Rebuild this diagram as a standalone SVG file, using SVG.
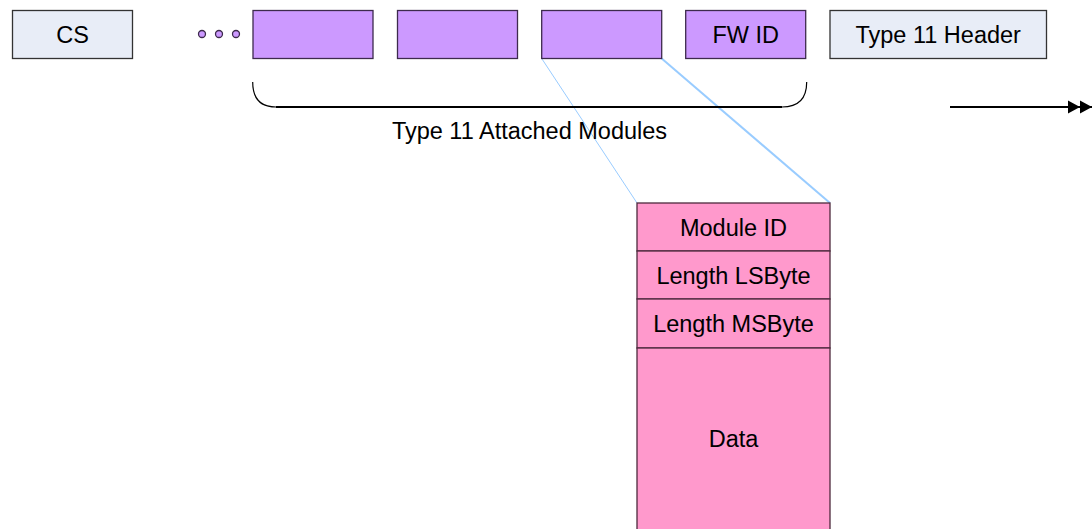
<svg xmlns="http://www.w3.org/2000/svg" width="1092" height="529" viewBox="0 0 1092 529">
<defs>
<style>
text{font-family:"Liberation Sans",Arial,Helvetica,sans-serif;font-size:23.5px;fill:#000;text-anchor:middle}
.hdr{fill:#e8edf7;stroke:#333;stroke-width:1.3}
.mod{fill:#cc99ff;stroke:#3d2a4d;stroke-width:1.3}
.pink{fill:#ff99cc;stroke:#4d2a3d;stroke-width:1.3}
.blue{stroke:#99ccff;fill:none}
</style>
<marker id="ah" markerWidth="26" markerHeight="16" refX="24" refY="8" orient="auto" markerUnits="userSpaceOnUse">
<path d="M0,1.5 L12,8 L0,14.5 Z M12,1.5 L24,8 L12,14.5 Z" fill="#000"/>
</marker>
</defs>
<rect width="1092" height="529" fill="#fff"/>
<g id="connectors">
<line class="blue" x1="541.7" y1="58.5" x2="637" y2="203" stroke-width="1"/>
<line class="blue" x1="661.7" y1="58.5" x2="830" y2="203" stroke-width="2"/>
<path d="M252.7,82 Q252.7,107 276,107" fill="none" stroke="#000" stroke-width="1.2"/>
<line x1="276" y1="107" x2="782" y2="107" stroke="#000" stroke-width="2.2"/>
<path d="M782,107 Q806.7,107 806.7,82" fill="none" stroke="#000" stroke-width="1.2"/>
<line x1="950" y1="107" x2="1092" y2="107" stroke="#000" stroke-width="2" marker-end="url(#ah)"/>
</g>
<g id="cs"><rect class="hdr" x="12.5" y="10.5" width="120" height="48"/><text x="72.5" y="42.5">CS</text></g>
<g id="dots"><circle class="mod" cx="202" cy="34" r="3.5"/><circle class="mod" cx="219" cy="34" r="3.5"/><circle class="mod" cx="236" cy="34" r="3.5"/></g>
<g id="m1"><rect class="mod" x="253" y="10.5" width="120" height="48"/></g>
<g id="m2"><rect class="mod" x="397.5" y="10.5" width="120" height="48"/></g>
<g id="m3"><rect class="mod" x="541.7" y="10.5" width="120" height="48"/></g>
<g id="fwid"><rect class="mod" x="685.7" y="10.5" width="120" height="48"/><text x="745.7" y="42.5">FW ID</text></g>
<g id="t11hdr"><rect class="hdr" x="830" y="10.5" width="216.5" height="48"/><text x="938.2" y="42.5">Type 11 Header</text></g>
<g id="label"><text x="529.5" y="138.5">Type 11 Attached Modules</text></g>
<g id="moduleid"><rect class="pink" x="637" y="203" width="193" height="48"/><text x="733.5" y="235.5">Module ID</text></g>
<g id="lsb"><rect class="pink" x="637" y="251" width="193" height="48"/><text x="733.5" y="283.5">Length LSByte</text></g>
<g id="msb"><rect class="pink" x="637" y="299" width="193" height="49"/><text x="733.5" y="331.5">Length MSByte</text></g>
<g id="data"><rect class="pink" x="637" y="348" width="193" height="190"/><text x="733.5" y="447">Data</text></g>
</svg>
